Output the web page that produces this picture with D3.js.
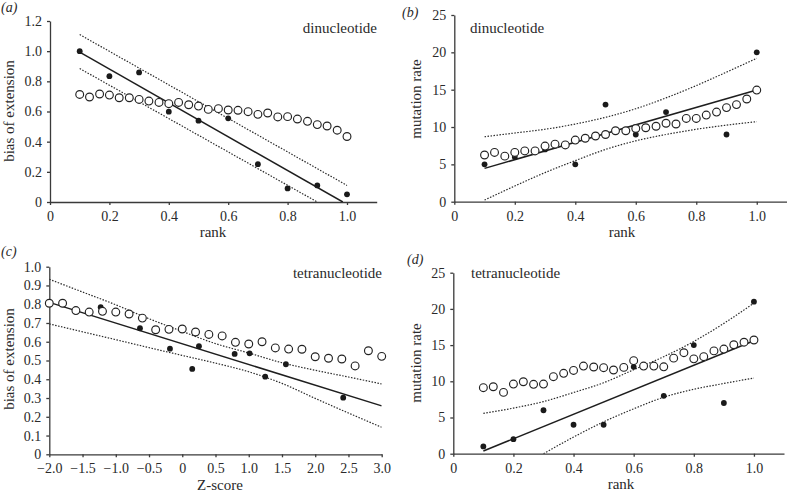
<!DOCTYPE html>
<html>
<head>
<meta charset="utf-8">
<script src="https://cdn.jsdelivr.net/npm/d3@7/dist/d3.min.js"></script>
<style>
  html, body { margin: 0; padding: 0; background: #fff; }
  svg { display: block; }
  text { font-family: "Liberation Serif", "Times New Roman", serif; fill: #2a2a2a; }
</style>
</head>
<body>
<svg id="chart" width="787" height="494"></svg>
<script>
// ---------------- DATA ----------------
const rankFilled = [0.1, 0.2, 0.3, 0.4, 0.5, 0.6, 0.7, 0.8, 0.9, 1.0];
const rankOpen = [0.1, 0.133, 0.167, 0.2, 0.233, 0.267, 0.3, 0.333, 0.367, 0.4, 0.433, 0.467, 0.5, 0.533,
                  0.567, 0.6, 0.633, 0.667, 0.7, 0.733, 0.767, 0.8, 0.833, 0.867, 0.9, 0.933, 0.967, 1.0];
const rankBand = [0.1, 0.2, 0.3, 0.4, 0.5, 0.6, 0.7, 0.8, 0.9, 1.0];

// (a) dinucleotide, bias of extension vs rank
const aFilled = [1.00, 0.834, 0.859, 0.599, 0.539, 0.555, 0.251, 0.090, 0.110, 0.051];
const aOpen = [0.713, 0.696, 0.716, 0.709, 0.691, 0.691, 0.680, 0.669, 0.660, 0.652, 0.660, 0.645, 0.636, 0.614,
               0.619, 0.610, 0.608, 0.599, 0.581, 0.590, 0.564, 0.566, 0.550, 0.535, 0.513, 0.504, 0.476, 0.434];
const aFitX = [0.1, 0.986], aFitY = [0.993, 0.0];
const aUpperX = [0.1, 1.0], aUpperY = [1.11, 0.11];
const aLowerX = [0.1, 0.9], aLowerY = [0.885, 0.0];

// (b) dinucleotide, mutation rate vs rank
const bFilled = [5, 6, 7, 5, 13, 9, 12, 11, 9, 20];
const bOpen = [6.25, 6.6, 6.1, 6.6, 6.8, 6.8, 7.45, 7.7, 7.6, 8.25, 8.5, 8.8, 9.0, 9.5,
               9.5, 9.8, 9.9, 10.1, 10.5, 10.4, 11.15, 11.15, 11.6, 12.0, 12.6, 13.0, 13.75, 14.95];
const bFitX = [0.1, 1.0], bFitY = [4.46, 14.96];
const bUpper = [8.7, 9.2, 9.7, 10.4, 11.3, 12.45, 13.9, 15.55, 17.35, 19.2];
const bLower = [0.22, 2.1, 3.9, 5.5, 7.0, 8.15, 9.0, 9.7, 10.25, 10.72];

// (c) tetranucleotide, bias of extension vs Z-score
const zOpen = [-2.0, -1.8, -1.6, -1.4, -1.2, -1.0, -0.8, -0.6, -0.4, -0.2, 0, 0.2, 0.4, 0.6,
               0.8, 1.0, 1.2, 1.4, 1.6, 1.8, 2.0, 2.2, 2.4, 2.6, 2.8, 3.0];
const cOpen = [0.805, 0.805, 0.766, 0.758, 0.762, 0.758, 0.748, 0.726, 0.664, 0.666, 0.668, 0.652, 0.639, 0.631,
               0.597, 0.588, 0.600, 0.567, 0.561, 0.560, 0.520, 0.512, 0.508, 0.471, 0.552, 0.522];
const zFilled = [-1.227, -0.636, -0.185, 0.150, 0.251, 0.788, 1.013, 1.248, 1.559, 2.421];
const cFilled = [0.784, 0.672, 0.563, 0.455, 0.576, 0.535, 0.538, 0.414, 0.480, 0.302];
const cFitX = [-2.0, 3.0], cFitY = [0.81, 0.258];
const zBand = [-2.0, -1.5, -1.0, -0.6, 0, 0.5, 1.0, 1.5, 2.0, 2.5, 3.0];
const cUpper = [0.933, 0.865, 0.797, 0.737, 0.655, 0.590, 0.540, 0.488, 0.448, 0.412, 0.375];
const cLower = [0.695, 0.653, 0.611, 0.577, 0.527, 0.486, 0.440, 0.378, 0.298, 0.220, 0.144];

// (d) tetranucleotide, mutation rate vs rank
const dFilled = [1, 2, 6, 4, 4, 12, 8, 15, 7, 21];
const dOpen = [9.12, 9.25, 8.47, 9.62, 9.94, 9.58, 9.62, 10.64, 11.1, 11.5, 12.1, 11.97, 11.88, 11.56,
               11.92, 12.85, 12.1, 12.1, 12.0, 13.2, 13.95, 13.1, 13.4, 14.2, 14.45, 15.05, 15.4, 15.7];
const dFitX = [0.1, 1.0], dFitY = [0.37, 15.6];
const dUpper = [5.57, 6.3, 7.2, 8.45, 9.8, 11.6, 13.4, 15.5, 18.0, 20.8];
const dLowerX = [0.3, 0.4, 0.5, 0.6, 0.7, 0.8, 0.9, 1.0];
const dLower = [0.0, 2.3, 4.4, 6.2, 7.8, 8.9, 9.7, 10.45];

// tick labels
const rankTicks = [0, 0.2, 0.4, 0.6, 0.8, 1.0];
const zTicks = [-2.0, -1.5, -1.0, -0.5, 0, 0.5, 1.0, 1.5, 2.0, 2.5, 3.0];
const biasTicksA = [0, 0.2, 0.4, 0.6, 0.8, 1.0, 1.2];
const biasTicksC = [0, 0.1, 0.2, 0.3, 0.4, 0.5, 0.6, 0.7, 0.8, 0.9, 1.0];
const rateTicks = [0, 5, 10, 15, 20, 25];

// ---------------- DRAW ----------------
const svg = d3.select("#chart");
const INK = "#2a2a2a";
const fmt1 = d => d === 0 ? "0" : d3.format(".1f")(d).replace("-", "\u2212");
const fmt0 = d => String(d);
const zip = (xs, ys) => xs.map((x, i) => [x, ys[i]]);

function panel(p) {
  const g = svg.append("g");
  const x = d3.scaleLinear().domain(p.xDomain).range(p.xRange);
  const y = d3.scaleLinear().domain(p.yDomain).range(p.yRange);

  const clipId = "clip-" + p.label;
  svg.append("clipPath").attr("id", clipId).append("rect")
    .attr("x", p.xRange[0]).attr("y", p.yRange[1] - 20)
    .attr("width", p.xRange[1] - p.xRange[0]).attr("height", p.yRange[0] - p.yRange[1] + 20);

  // axes
  const xa = g.append("g").attr("transform", `translate(0,${p.yRange[0]})`)
    .call(d3.axisBottom(x).tickValues(p.xTicks).tickFormat(p.xFmt).tickSize(3).tickSizeOuter(0).tickPadding(6));
  const ya = g.append("g").attr("transform", `translate(${p.xRange[0]},0)`)
    .call(d3.axisLeft(y).tickValues(p.yTicks).tickFormat(p.yFmt).tickSize(3).tickSizeOuter(0).tickPadding(5));
  [xa, ya].forEach(a => {
    a.attr("font-family", null).attr("font-size", null);
    a.selectAll("path, line").attr("stroke", "#3a3a3a").attr("stroke-width", 1.3);
    a.selectAll("text").attr("fill", INK).style("font-size", "14px");
  });

  const plot = g.append("g").attr("clip-path", `url(#${clipId})`);
  const line = d3.line().x(d => x(d[0])).y(d => y(d[1]));
  const band = d3.line().x(d => x(d[0])).y(d => y(d[1])).curve(d3.curveMonotoneX);

  plot.append("path").attr("d", band(p.upper)).attr("fill", "none")
    .attr("stroke", INK).attr("stroke-width", 1.2).attr("stroke-dasharray", "1.5,1.5");
  plot.append("path").attr("d", band(p.lower)).attr("fill", "none")
    .attr("stroke", INK).attr("stroke-width", 1.2).attr("stroke-dasharray", "1.5,1.5");
  plot.append("path").attr("d", line(p.fit)).attr("fill", "none")
    .attr("stroke", "#1e1e1e").attr("stroke-width", 1.5);

  g.append("g").selectAll("circle").data(p.filled).join("circle")
    .attr("cx", d => x(d[0])).attr("cy", d => y(d[1])).attr("r", 2.9).attr("fill", "#1a1a1a");
  g.append("g").selectAll("circle").data(p.open).join("circle")
    .attr("cx", d => x(d[0])).attr("cy", d => y(d[1])).attr("r", 3.9)
    .attr("fill", "#fff").attr("stroke", "#222").attr("stroke-width", 1.15);

  // texts
  g.append("text").attr("x", p.tagPos[0]).attr("y", p.tagPos[1])
    .style("font-size", "14px").style("font-style", "italic").text("(" + p.label + ")");
  g.append("text").attr("x", p.namePos[0]).attr("y", p.namePos[1])
    .attr("text-anchor", p.nameAnchor).style("font-size", "15px").text(p.name);
  g.append("text").attr("x", p.xLabPos[0]).attr("y", p.xLabPos[1])
    .attr("text-anchor", "middle").style("font-size", "15px").text(p.xLabel);
  g.append("text").attr("transform", `translate(${p.yLabPos[0]},${p.yLabPos[1]}) rotate(-90)`)
    .attr("text-anchor", "middle").style("font-size", "15px").text(p.yLabel);
}

panel({
  label: "a", name: "dinucleotide", nameAnchor: "end", namePos: [377, 33],
  tagPos: [1, 12], xLabel: "rank", xLabPos: [213, 237], yLabel: "bias of extension", yLabPos: [14, 111],
  xDomain: [0, 1.1], xRange: [50, 376.7], yDomain: [0, 1.2], yRange: [202, 21],
  xTicks: rankTicks, xFmt: fmt1, yTicks: biasTicksA, yFmt: fmt1,
  filled: zip(rankFilled, aFilled), open: zip(rankOpen, aOpen),
  fit: zip(aFitX, aFitY), upper: zip(aUpperX, aUpperY), lower: zip(aLowerX, aLowerY)
});

panel({
  label: "b", name: "dinucleotide", nameAnchor: "start", namePos: [470, 33],
  tagPos: [402, 17], xLabel: "rank", xLabPos: [622, 237], yLabel: "mutation rate", yLabPos: [421, 99],
  xDomain: [0, 1.1], xRange: [454.3, 787], yDomain: [0, 25], yRange: [201.7, 15],
  xTicks: rankTicks, xFmt: fmt1, yTicks: rateTicks, yFmt: fmt0,
  filled: zip(rankFilled, bFilled), open: zip(rankOpen, bOpen),
  fit: zip(bFitX, bFitY), upper: zip(rankBand, bUpper), lower: zip(rankBand, bLower)
});

panel({
  label: "c", name: "tetranucleotide", nameAnchor: "end", namePos: [382, 278],
  tagPos: [1, 256], xLabel: "Z-score", xLabPos: [220, 490], yLabel: "bias of extension", yLabPos: [14, 359],
  xDomain: [-2, 3], xRange: [49.3, 381.7], yDomain: [0, 1], yRange: [454.3, 266.7],
  xTicks: zTicks, xFmt: fmt1, yTicks: biasTicksC, yFmt: fmt1,
  filled: zip(zFilled, cFilled), open: zip(zOpen, cOpen),
  fit: zip(cFitX, cFitY), upper: zip(zBand, cUpper), lower: zip(zBand, cLower)
});

panel({
  label: "d", name: "tetranucleotide", nameAnchor: "start", namePos: [471, 278],
  tagPos: [407, 264], xLabel: "rank", xLabPos: [621, 489], yLabel: "mutation rate", yLabPos: [421, 363],
  xDomain: [0, 1.1], xRange: [453.3, 784], yDomain: [0, 25], yRange: [453.7, 272.7],
  xTicks: rankTicks, xFmt: fmt1, yTicks: rateTicks, yFmt: fmt0,
  filled: zip(rankFilled, dFilled), open: zip(rankOpen, dOpen),
  fit: zip(dFitX, dFitY), upper: zip(rankBand, dUpper), lower: zip(dLowerX, dLower)
});
</script>
</body>
</html>
